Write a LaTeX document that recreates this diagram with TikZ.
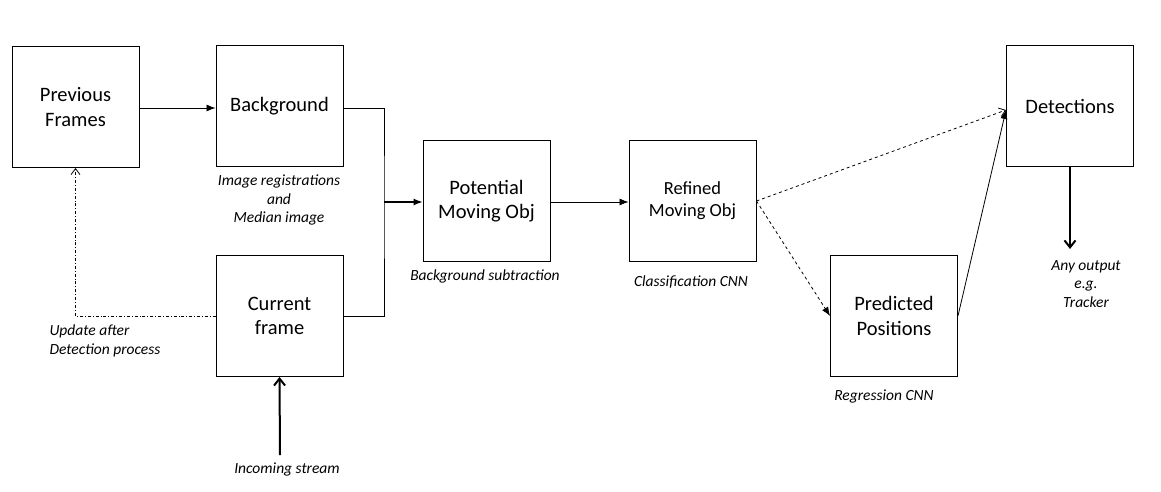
\documentclass[tikz,border=0pt]{standalone}
\usepackage{fontspec}
\setmainfont{Carlito}
\usetikzlibrary{arrows.meta}

\tikzset{
  block/.style={draw, line width=0.9pt, minimum width=127pt, minimum height=121pt,
    align=center, font=\fontsize{20.5}{24.5}\selectfont},
  note/.style={align=center, font=\fontsize{15.5}{18.5}\selectfont\itshape},
  flow/.style={line width=0.8pt, -{Latex[length=9pt,width=7pt]}},
  thickflow/.style={line width=2pt, -{Straight Barb[length=7pt,width=11pt]}}
}

\begin{document}
\begin{tikzpicture}[x=1pt, y=-1pt]
	%%%%% START %%%%%
	\useasboundingbox (0,0) rectangle (1161,492);
	
	% blocks
	\node[block] (prev) at (75.5,107) {Previous\\Frames};
	\node[block] (bg) at (279.5,106) {\raisebox{-4pt}{Background}};
	\node[block] (cur) at (279.5,316) {Current\\frame};
	\node[block] (pot) at (486.5,201) {Potential\\Moving Obj};
	\node[block, font=\fontsize{18.5}{22}\selectfont] (ref) at (692.5,201) {Refined\\Moving Obj};
	\node[block] (pred) at (894,316) {Predicted\\Positions};
	\node[block] (det) at (1070,106) {Detections};
	
	% notes
	\node[note] at (279,200) {Image registrations\\and\\Median image};
	\node[note] at (485,276) {Background subtraction};
	\node[note] at (691,282) {Classification CNN};
	\node[note, align=left, anchor=west] at (46,341) {Update after\\Detection process};
	\node[note] (src) at (287,469) {Incoming stream};
	\node[note] at (884,396) {Regression CNN};
	\node[note] (out) at (1086,284) {Any output\\e.g.\\Tracker};
	
	% helper points
	\coordinate (join) at (384,202);
	\coordinate (detin) at (1006,110);
	\coordinate (stream) at (280,455);
	\coordinate (outend) at (1070,249);
	
	% connectors
	\draw[flow] (prev.east |- 0,108) -- (bg.west |- 0,108);
	\draw[line width=0.8pt] (bg.east |- 0,108) -| (join) |- (cur.east);
	\draw[flow, line width=1.3pt] (join) -- (pot.west |- join);
	\draw[flow] (pot.east |- 0,202) -- (ref.west |- 0,202);
	\draw[line width=0.8pt, dash dot, -{Straight Barb[length=6pt,width=9pt]}] (cur.west) -| (prev.south);
	\draw[thickflow] (stream) -- (cur.south);
	\draw[line width=0.8pt, dashed, -{Straight Barb[length=6pt,width=9pt]}] (ref.east) -- (detin);
	\draw[flow, dashed] (ref.east) -- (pred.west);
	\draw[flow] (pred.east) -- (detin);
	\draw[thickflow] (det.south) -- (outend);
	%%%%% END %%%%%
\end{tikzpicture}
\end{document}
